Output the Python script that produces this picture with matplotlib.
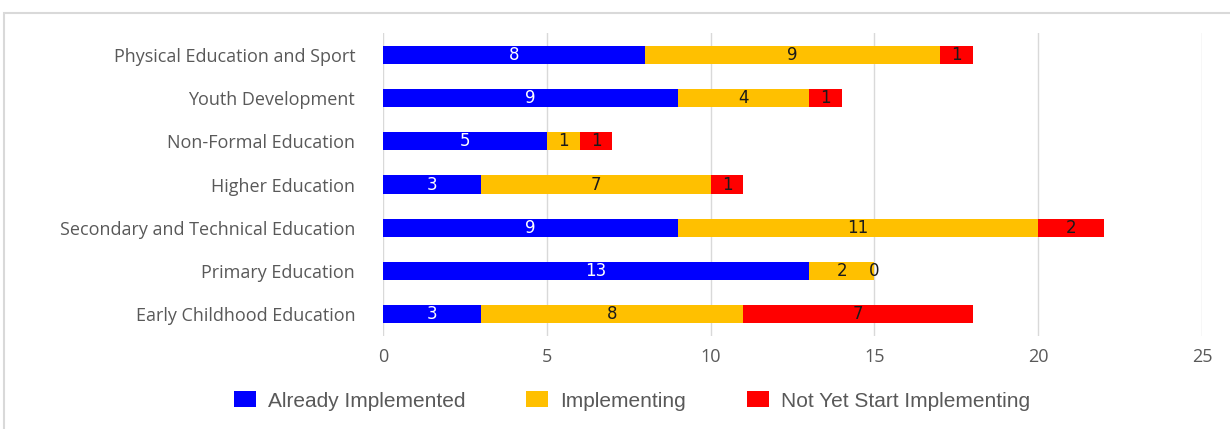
import matplotlib
matplotlib.use("Agg")
import matplotlib.pyplot as plt
from matplotlib import font_manager
from matplotlib.patches import Rectangle

categories = ["Physical Education and Sport", "Youth Development", "Non-Formal Education",
              "Higher Education", "Secondary and Technical Education", "Primary Education",
              "Early Childhood Education"]
already = [8, 9, 5, 3, 9, 13, 3]
implementing = [9, 4, 1, 7, 11, 2, 8]
not_yet = [1, 1, 1, 1, 2, 0, 7]
series_names = ["Already Implemented", "Implementing", "Not Yet Start Implementing"]
colors = ["#0000FF", "#FFC000", "#FF0000"]
label_colors = ["white", "#1a1a1a", "#1a1a1a"]
xticks = [0, 5, 10, 15, 20, 25]

names = {f.name for f in font_manager.fontManager.ttflist}
cat_font = "Open Sans" if "Open Sans" in names else "DejaVu Sans"
leg_font = "Liberation Sans" if "Liberation Sans" in names else "DejaVu Sans"

fig = plt.figure(figsize=(12.3, 4.29), dpi=100)
ax = fig.add_axes([383/1230, 1-336/429, (1202-383)/1230, (336-33)/429])

# border
fig.patches.append(Rectangle((4/1230, -0.1), 1.2, 1-13/429+0.1, transform=fig.transFigure,
                             fill=False, edgecolor="#D9D9D9", linewidth=1.5))

y = list(range(len(categories)))[::-1]
data = [already, implementing, not_yet]
left = [0]*len(categories)
for vals, c, lc, nm in zip(data, colors, label_colors, series_names):
    ax.barh(y, vals, left=left, color=c, height=0.42, label=nm, zorder=3)
    for yi, v, l in zip(y, vals, left):
        ax.text(l + v/2, yi, str(v), ha="center", va="center", color=lc,
                fontsize=12, family=["DejaVu Sans"], zorder=4)
    left = [a+b for a, b in zip(left, vals)]

ax.set_xlim(0, 25)
ax.set_ylim(-0.5, len(categories)-0.5)
ax.set_xticks(xticks)
ax.set_yticks(y)
ax.set_yticklabels(categories, family=cat_font, fontsize=13, color="#595959")
ax.tick_params(axis="x", labelsize=13, colors="#595959", length=0, pad=9)
ax.tick_params(axis="y", length=0, pad=20)
for lab in ax.get_xticklabels():
    lab.set_family(cat_font)
ax.grid(axis="x", color="#D9D9D9", linewidth=1.0, zorder=0)
for s in ax.spines.values():
    s.set_visible(False)

leg = fig.legend(loc="center", bbox_to_anchor=(632/1230, 1-401/429), ncol=3, frameon=False,
                 prop={"family": leg_font, "size": 15}, handlelength=1.06, handleheight=0.77,
                 columnspacing=2.9, handletextpad=0.58, labelcolor="#595959")
fig.savefig("out.png", dpi=100, facecolor="white")
